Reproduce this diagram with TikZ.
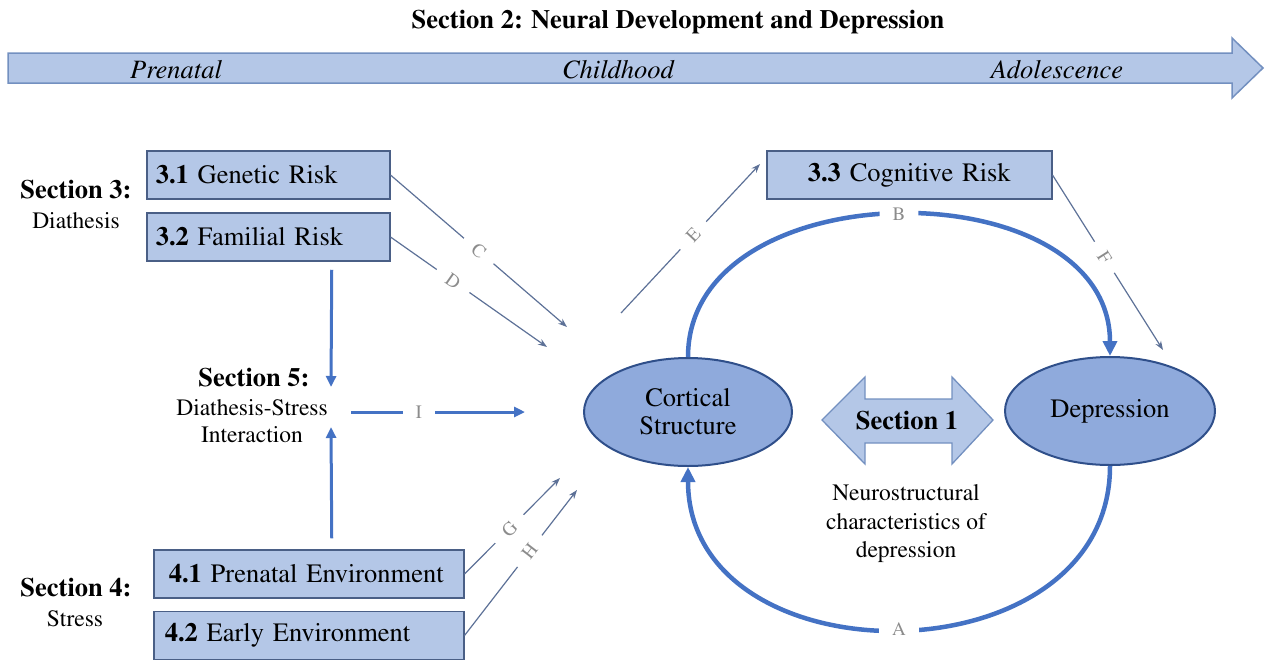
\documentclass[tikz,border=0pt]{standalone}
\usepackage[T1]{fontenc}
\renewcommand\rmdefault{ptm}
\usetikzlibrary{arrows.meta,calc,shapes.geometric}
\definecolor{boxfill}{HTML}{B4C7E7}
\definecolor{boxdraw}{HTML}{4A5F86}
\definecolor{ellfill}{HTML}{8FAADC}
\definecolor{elldraw}{HTML}{2F4F8A}
\definecolor{bluecol}{HTML}{4472C4}
\definecolor{thincol}{HTML}{5D7197}
\definecolor{labgray}{HTML}{8C8C8C}
\definecolor{tlborder}{HTML}{7390C0}
\newcommand\FsBig{\fontsize{26.5}{30}\selectfont}
\newcommand\FsSmall{\fontsize{23.5}{27}\selectfont}
\newcommand\FsNeuro{\fontsize{23.5}{28.5}\selectfont}
\newcommand\FsLab{\fontsize{19}{21}\selectfont}
\begin{document}
\begin{tikzpicture}[x=1pt,y=-1pt,
  box/.style={draw=boxdraw, line width=1.5pt, fill=boxfill, minimum height=48pt, inner ysep=0pt, font=\FsBig, align=left, anchor=west},
  ell/.style={ellipse, draw=elldraw, line width=2pt, fill=ellfill, align=center, font=\FsBig, inner sep=0pt},
  thinarr/.style={draw=thincol, line width=1.2pt, -{Stealth[length=9pt,width=6.5pt]}},
  thickarr/.style={draw=bluecol, line width=3pt, -{Triangle[length=11pt,width=10pt]}},
  arcarr/.style={draw=bluecol, line width=4.5pt, -{Triangle[length=15pt,width=14pt]}},
  lab/.style={fill=white, inner xsep=13pt, inner ysep=2pt, font=\FsLab, text=labgray, sloped},
  head/.style={font=\FsBig\bfseries},
  sub/.style={font=\FsSmall}
]
\useasboundingbox (0,0) rectangle (1271,667);

% title and timeline
\node[head] (title) at (678,22) {Section 2: Neural Development and Depression};
\draw[fill=boxfill, draw=tlborder, line width=1.5pt, line join=miter]
  (8,53) -- (1232,53) -- (1232,38) -- (1263,68) -- (1232,98) -- (1232,83) -- (8,83) -- cycle;
\node[font=\FsBig\itshape] (pre) at (176,70) {Prenatal};
\node[font=\FsBig\itshape] (child) at (618,70) {Childhood};
\node[font=\FsBig\itshape] (adol) at (1057,70) {Adolescence};

% section labels
\node[head] (s3) at (76,190) {Section 3:};
\node[sub] (s3d) at (76,221) {Diathesis};
\node[head] (s4) at (76,588) {Section 4:};
\node[sub] (s4s) at (75,619) {Stress};
\node[head] (s5) at (254,378) {Section 5:};
\node[sub, align=center] (s5d) at (252,421) {Diathesis-Stress\\Interaction};

% boxes
\node[box, text width=225pt, inner xsep=9pt] (g31) at (146,175) {\textbf{3.1} Genetic Risk};
\node[box, text width=225pt, inner xsep=9pt] (g32) at (146,237) {\textbf{3.2} Familial Risk};
\node[box, text width=265pt, inner xsep=10pt, align=center] (g33) at (766,175) {\textbf{3.3} Cognitive Risk};
\node[box, text width=280pt, inner xsep=15pt] (g41) at (153,574) {\textbf{4.1} Prenatal Environment};
\node[box, text width=288pt, inner xsep=11pt] (g42) at (153,635.5) {\textbf{4.2} Early Environment};

% ellipses
\node[ell, minimum width=208pt, minimum height=108pt] (cort) at (688,412) {Cortical\\[-2pt]Structure};
\node[ell, minimum width=210pt, minimum height=108pt] (dep) at (1110,411) {Depression};

% section 1 double arrow
\draw[fill=boxfill, draw=tlborder, line width=1.3pt]
  (822,420) -- (865,377) -- (865,399) -- (952,399) -- (952,377) -- (993,420)
  -- (952,464) -- (952,443) -- (865,443) -- (865,464) -- cycle;
\node[head] (sec1) at (907,421) {Section 1};
\node[font=\FsNeuro, align=center] (neuro) at (906,524) {Neurostructural\\characteristics of\\depression};

% free ends
\coordinate (cC) at (567,327);
\coordinate (cD) at (547,347);
\coordinate (cE) at (621,313);
\coordinate (cF) at (1163,350);
\coordinate (cG) at (560,478);
\coordinate (cH) at (577,490);
\coordinate (cI1) at (351,412);
\coordinate (cI2) at (525,412);
\coordinate (cDn) at (331,387);
\coordinate (cUp) at (331,427);

% thin connectors
\draw[thinarr] (g31.east) -- node[lab, pos=.5] {C} (cC);
\draw[thinarr] (g32.east) -- node[lab, pos=.4] {D} (cD);
\draw[thinarr] (cE) -- node[lab, pos=.52] {E} ($(g33.west)+(-6,-11)$);
\draw[thinarr] (g33.east) -- node[lab, pos=.47] {F} (cF);
\draw[thinarr] (g41.east) -- node[lab, pos=.47] {G} (cG);
\draw[thinarr] (g42.east) -- node[lab, pos=.58] {H} (cH);

% thick blue connectors
\draw[thickarr] ($(g32.south)+(63.5,8)$) -- (cDn);
\draw[thickarr] ($(g41.north)+(23,-11)$) -- (cUp);
\draw[thickarr] (cI1) -- node[lab, pos=.39, text=labgray] {I} (cI2);

% arcs
\draw[arcarr] (cort.north) .. controls +(0,-189) and +(0,-189) .. node[lab, pos=.5] {B} (dep.north);
\draw[arcarr] (dep.south) .. controls +(0,217) and +(0,217) .. node[lab, pos=.5] {A} (cort.south);
\end{tikzpicture}
\end{document}
